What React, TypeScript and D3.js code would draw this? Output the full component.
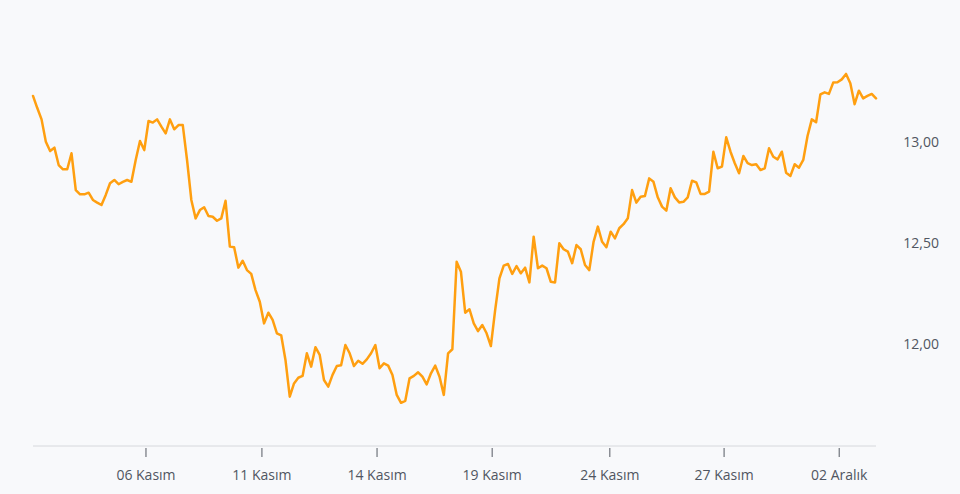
import React from "react";
import * as d3 from "d3";

const prices: number[] = [
  13.228, 13.168, 13.112, 13.001, 12.955, 12.972, 12.886, 12.865, 12.865, 12.944,
  12.762, 12.741, 12.741, 12.749, 12.713, 12.7, 12.688, 12.738, 12.796, 12.812,
  12.791, 12.803, 12.812, 12.803, 12.911, 13.005, 12.96, 13.104, 13.096, 13.112,
  13.076, 13.043, 13.112, 13.063, 13.084, 13.084, 12.911, 12.713, 12.622, 12.663,
  12.677, 12.634, 12.63, 12.61, 12.622, 12.709, 12.482, 12.479, 12.378, 12.412,
  12.366, 12.347, 12.267, 12.209, 12.102, 12.155, 12.119, 12.053, 12.043, 11.921,
  11.739, 11.805, 11.833, 11.842, 11.954, 11.888, 11.984, 11.946, 11.822, 11.789,
  11.847, 11.891, 11.895, 11.995, 11.954, 11.891, 11.917, 11.902, 11.924, 11.954,
  11.995, 11.88, 11.904, 11.893, 11.847, 11.748, 11.709, 11.719, 11.83, 11.842,
  11.86, 11.838, 11.8, 11.855, 11.893, 11.838, 11.748, 11.954, 11.974, 12.407,
  12.358, 12.155, 12.172, 12.102, 12.064, 12.094, 12.053, 11.99, 12.168, 12.325,
  12.388, 12.396, 12.347, 12.386, 12.35, 12.378, 12.305, 12.531, 12.375, 12.388,
  12.375, 12.308, 12.305, 12.499, 12.469, 12.457, 12.4, 12.49, 12.469, 12.391,
  12.366, 12.506, 12.581, 12.506, 12.479, 12.556, 12.523, 12.573, 12.593, 12.622,
  12.762, 12.7, 12.729, 12.733, 12.82, 12.803, 12.726, 12.68, 12.66, 12.771,
  12.726, 12.701, 12.704, 12.726, 12.808, 12.8, 12.743, 12.743, 12.754, 12.952,
  12.87, 12.878, 13.023, 12.952, 12.895, 12.845, 12.931, 12.895, 12.886, 12.89,
  12.861, 12.87, 12.969, 12.927, 12.914, 12.952, 12.848, 12.832, 12.89, 12.873,
  12.911, 13.03, 13.112, 13.098, 13.236, 13.246, 13.238, 13.294, 13.296, 13.31,
  13.337, 13.291, 13.187, 13.254, 13.216, 13.228, 13.238, 13.216,
];

const xTickPositions: number[] = [26.4, 53.5, 80.4, 107.3, 134.8, 161.5, 188.4];
const xTickLabels: string[] = [
  "06 Kasım",
  "11 Kasım",
  "14 Kasım",
  "19 Kasım",
  "24 Kasım",
  "27 Kasım",
  "02 Aralık",
];
const yTickValues: number[] = [12.0, 12.5, 13.0];

const W = 960;
const H = 494;

export default function App() {
  const x = d3.scaleLinear().domain([0, prices.length - 1]).range([33, 876]);
  const y = d3.scaleLinear().domain([11.5, 13.5]).range([445, 41]);
  const line = d3
    .line<number>()
    .x((_, i) => x(i))
    .y((d) => y(d));
  const fmt = (v: number) => v.toFixed(2).replace(".", ",");
  const font = "'Open Sans', 'Noto Sans', sans-serif";

  return (
    <svg
      width={W}
      height={H}
      style={{ position: "fixed", left: 0, top: 0, display: "block" }}
      fontFamily={font}
    >
      <rect x={0} y={0} width={W} height={H} fill="#f8f9fb" />
      <line x1={33} x2={876} y1={446} y2={446} stroke="#d6d8dc" strokeWidth={1} />
      {xTickPositions.map((t, i) => (
        <g key={i} transform={`translate(${x(t)},0)`}>
          <line y1={448} y2={457} stroke="#555a63" strokeWidth={1} />
          <text y={480} textAnchor="middle" fontSize={14} fill="#505661">
            {xTickLabels[i]}
          </text>
        </g>
      ))}
      {yTickValues.map((v) => (
        <text
          key={v}
          x={939}
          y={y(v)}
          dy="0.36em"
          textAnchor="end"
          fontSize={14}
          fill="#505661"
        >
          {fmt(v)}
        </text>
      ))}
      <path
        d={line(prices) || ""}
        fill="none"
        stroke="#ff9f10"
        strokeWidth={2.5}
        strokeLinejoin="round"
        strokeLinecap="round"
      />
    </svg>
  );
}
